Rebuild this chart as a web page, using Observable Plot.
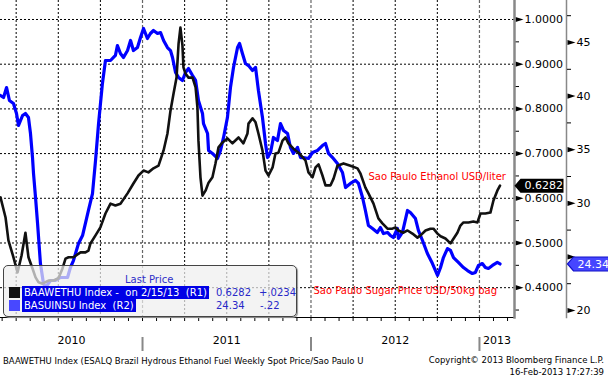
<!DOCTYPE html>
<html><head><meta charset="utf-8">
<script src="https://cdn.jsdelivr.net/npm/d3@7"></script>
<script src="https://cdn.jsdelivr.net/npm/@observablehq/plot@0.6"></script>
<style>
body{margin:0;background:#fff;}
#wrap{position:relative;width:608px;height:380px;overflow:hidden;background:#fff;font-family:"DejaVu Sans",sans-serif;color:#000;}
#wrap svg{position:absolute;left:0;top:0;}
#legend{position:absolute;left:3px;top:265px;width:292px;height:50px;border:1px solid #444;border-radius:5px;background:rgba(238,238,238,0.72);box-shadow:1px 1px 1px #999;z-index:10;font-size:10px;line-height:13px;}
#legend div{position:absolute;white-space:pre;}
#legend .lp{left:121px;top:7px;color:#3030c8;}
#legend .sw{left:5px;width:11px;height:11px;}
#legend .hl{left:18px;height:13px;padding:0 2px;background:#0000e6;color:#fff;}
#legend .val{color:#2828c8;}
.foot{position:absolute;font-size:8.5px;line-height:10px;white-space:pre;color:#000;}
</style></head><body>
<div id="wrap"></div>
<script>
// ---- data (decimal years) ----
const ethanolYears = [2010.157,2010.187,2010.204,2010.234,2010.258,2010.282,2010.305,2010.323,2010.347,2010.365,2010.383,2010.406,2010.442,2010.472,2010.501,2010.525,2010.543,2010.561,2010.590,2010.632,2010.661,2010.679,2010.691,2010.721,2010.750,2010.780,2010.810,2010.839,2010.869,2010.911,2010.946,2010.976,2011.006,2011.035,2011.065,2011.095,2011.125,2011.148,2011.166,2011.184,2011.202,2011.214,2011.225,2011.237,2011.243,2011.255,2011.273,2011.297,2011.315,2011.326,2011.332,2011.344,2011.356,2011.374,2011.392,2011.415,2011.433,2011.451,2011.475,2011.504,2011.534,2011.570,2011.599,2011.623,2011.629,2011.653,2011.671,2011.688,2011.712,2011.730,2011.748,2011.772,2011.789,2011.807,2011.831,2011.849,2011.866,2011.896,2011.926,2011.967,2011.985,2012.009,2012.027,2012.045,2012.068,2012.086,2012.116,2012.134,2012.157,2012.193,2012.234,2012.276,2012.294,2012.323,2012.341,2012.371,2012.400,2012.424,2012.454,2012.483,2012.501,2012.519,2012.549,2012.573,2012.602,2012.632,2012.650,2012.680,2012.709,2012.727,2012.751,2012.769,2012.798,2012.828,2012.840,2012.869,2012.887,2012.905,2012.935,2012.964,2012.988,2013.006,2013.035,2013.065,2013.083,2013.106,2013.122];
const ethanolValues = [0.602,0.557,0.506,0.468,0.434,0.472,0.523,0.468,0.443,0.423,0.412,0.409,0.416,0.416,0.421,0.443,0.465,0.468,0.468,0.479,0.479,0.483,0.499,0.517,0.535,0.566,0.588,0.584,0.588,0.611,0.633,0.651,0.662,0.658,0.667,0.673,0.707,0.745,0.796,0.834,0.870,0.946,0.982,0.942,0.893,0.879,0.870,0.870,0.848,0.803,0.729,0.647,0.606,0.617,0.635,0.647,0.678,0.714,0.725,0.734,0.723,0.736,0.723,0.745,0.767,0.779,0.770,0.745,0.707,0.662,0.651,0.669,0.700,0.702,0.729,0.736,0.723,0.711,0.702,0.685,0.658,0.647,0.669,0.676,0.651,0.629,0.629,0.644,0.673,0.678,0.673,0.667,0.655,0.624,0.611,0.588,0.555,0.544,0.532,0.532,0.535,0.528,0.523,0.528,0.521,0.512,0.517,0.528,0.532,0.532,0.521,0.515,0.510,0.499,0.506,0.523,0.539,0.546,0.546,0.548,0.546,0.566,0.566,0.568,0.595,0.617,0.6282];

const sugarYears = [2010.157,2010.175,2010.193,2010.210,2010.234,2010.252,2010.264,2010.288,2010.305,2010.323,2010.335,2010.347,2010.353,2010.365,2010.377,2010.394,2010.412,2010.424,2010.454,2010.483,2010.513,2010.555,2010.572,2010.590,2010.620,2010.644,2010.661,2010.679,2010.703,2010.721,2010.739,2010.762,2010.780,2010.810,2010.839,2010.851,2010.869,2010.887,2010.911,2010.929,2010.946,2010.970,2010.988,2011.006,2011.029,2011.047,2011.065,2011.089,2011.107,2011.125,2011.148,2011.166,2011.178,2011.196,2011.214,2011.237,2011.255,2011.273,2011.297,2011.315,2011.332,2011.356,2011.362,2011.386,2011.392,2011.415,2011.445,2011.463,2011.481,2011.504,2011.522,2011.540,2011.564,2011.576,2011.593,2011.611,2011.629,2011.653,2011.671,2011.688,2011.712,2011.730,2011.742,2011.760,2011.777,2011.801,2011.819,2011.837,2011.861,2011.878,2011.896,2011.920,2011.938,2011.955,2011.985,2012.009,2012.039,2012.068,2012.086,2012.104,2012.128,2012.157,2012.187,2012.205,2012.234,2012.264,2012.282,2012.306,2012.323,2012.341,2012.365,2012.394,2012.412,2012.430,2012.454,2012.471,2012.489,2012.513,2012.519,2012.543,2012.573,2012.590,2012.620,2012.638,2012.662,2012.691,2012.721,2012.751,2012.769,2012.786,2012.810,2012.828,2012.846,2012.875,2012.905,2012.929,2012.958,2012.976,2012.994,2013.017,2013.035,2013.053,2013.077,2013.106,2013.122];
const sugarValues = [40.06,39.87,40.80,39.59,39.31,38.38,37.26,38.19,38.38,38.00,36.51,34.27,32.78,30.54,28.12,24.38,22.52,22.15,22.80,22.80,23.08,23.08,24.01,24.66,26.25,26.99,28.12,29.33,30.91,33.99,37.44,41.18,43.32,43.32,43.79,44.72,43.97,43.60,44.25,45.19,44.25,44.53,45.47,46.31,45.37,45.84,46.12,45.84,45.93,45.19,44.53,44.25,43.60,42.20,41.74,41.46,42.20,42.57,41.92,41.46,39.59,38.38,37.44,36.51,34.93,34.65,34.18,34.93,36.14,38.00,40.80,42.67,44.53,44.91,43.97,43.04,42.85,42.39,42.67,40.52,38.00,35.58,34.27,34.74,36.14,35.86,37.44,36.79,36.51,35.21,34.65,35.21,34.27,34.27,34.18,34.74,34.93,35.39,35.58,34.65,34.27,33.71,32.87,31.47,31.85,32.13,31.85,30.54,29.33,27.93,27.65,27.28,27.74,27.18,27.28,27.00,26.81,27.65,26.72,27.28,29.33,29.14,28.58,27.46,26.53,25.32,24.38,23.27,24.01,24.94,25.78,25.60,24.94,24.48,24.01,23.73,23.45,23.55,24.20,24.38,24.01,23.92,24.20,24.48,24.34];

const ethanolTicks = [0.4,0.5,0.6,0.7,0.8,0.9,1.0];
const ethanolMinorTicks = [0.35,0.45,0.55,0.65,0.75,0.85,0.95];
const sugarTicks = [20,25,30,35,40,45];
const sugarMinorTicks = [22.5,27.5,32.5,37.5,42.5,47.5];
const yearLabels = ["2010","2011","2012","2013"];
const yearStarts = [2010,2011,2012,2013];

const ethanolName = "BAAWETHU Index -  on 2/15/13  (R1)";
const sugarName = "BASUINSU Index  (R2)";
const ethanolChange = "+.0234";
const sugarChange = "-.22";
const ethanolNote = "Sao Paulo Ethanol USD/liter";
const sugarNote = "Sao Paulo Sugar Price USD/50kg bag";
const footLeft = "BAAWETHU Index (ESALQ Brazil Hydrous Ethanol Fuel Weekly Spot Price/Sao Paulo U";
const footRight1 = "Copyright\u00a9 2013 Bloomberg Finance L.P.";
const footRight2 = "16-Feb-2013 17:27:39";

// ---- build ----
const ethanol = ethanolYears.map((t,i)=>({t, v: ethanolValues[i]}));
const sugar = sugarYears.map((t,i)=>({t, v: sugarValues[i]}));
const lastEth = ethanol[ethanol.length-1];
const lastSug = sugar[sugar.length-1];

const W = 608, H = 350;
const xDomain = [2010.157, 2013.208];
const ethDomain = [0.3333, 1.0425];
const sugDomain = [19.347, 48.918];
const inX = t => t >= xDomain[0] && t <= xDomain[1];
const quarterLines = d3.range(2010, 2014, 0.25).filter(t => inX(t) && !Number.isInteger(t));
const monthTicks = d3.range(2010*12, 2014*12).map(m => m/12).filter(inX);
const yearLines = yearStarts.filter(inX);
const yearCenters = yearStarts.map((y,i) => ({label: yearLabels[i], t: (Math.max(y, xDomain[0]) + Math.min(y+1, xDomain[1]))/2}));
// tick labels that sit under the last-value tag are hidden, as in the original
const sugarLabelTicks = sugarTicks.filter(s => Math.abs(s - lastSug.v) > 1.2);

const arrowRight = {draw(c){c.moveTo(0,-2.6);c.lineTo(8,0);c.lineTo(0,2.6);c.closePath();}};
const tag = w => ({draw(c){c.moveTo(0,0);c.lineTo(6,-7);c.lineTo(w,-7);c.lineTo(w,7);c.lineTo(6,7);c.closePath();}});

const common = {
  width: W, height: H, marginTop: 0, marginRight: 94, marginBottom: 33, marginLeft: 0,
  x: {domain: xDomain, axis: null},
};
const st = bg => ({fontFamily: "DejaVu Sans", fontSize: "11px", background: bg, overflow: "visible"});

const base = Plot.plot({
  ...common, style: st("white"),
  y: {domain: ethDomain, axis: null},
  marks: [
    Plot.ruleY(ethanolTicks, {stroke: "#000", strokeWidth: 1, strokeDasharray: "2,2"}),
    Plot.ruleX(quarterLines, {stroke: "#000", strokeWidth: 1, strokeDasharray: "2,2"}),
    Plot.ruleX(yearLines, {stroke: "#666", strokeWidth: 1.2, strokeDasharray: "3,2"}),
    Plot.frame({anchor: "bottom", stroke: "#000"}),
    Plot.axisX(monthTicks, {anchor: "bottom", tickSize: 4, tickFormat: () => "", label: null}),
    Plot.axisX(yearLines, {anchor: "bottom", tickSize: 14, dy: 20, stroke: "#888", strokeWidth: 2, tickFormat: () => "", label: null}),
    Plot.text(yearCenters, {x: "t", text: "label", frameAnchor: "bottom", dy: 26, fontSize: 11, fill: "#000"}),
    Plot.axisY(ethanolMinorTicks, {anchor: "right", tickSize: 4, tickFormat: () => "", label: null}),
    Plot.axisY(ethanolTicks, {anchor: "right", tickSize: 0, tickPadding: 10, tickFormat: d3.format(".4f"), fontSize: 11, fill: "#000", label: null}),
    Plot.dot(ethanolTicks, {y: d => d, frameAnchor: "right", dx: 1, symbol: arrowRight, fill: "#000"}),
    Plot.frame({anchor: "right", stroke: "#888", strokeWidth: 2.5})
  ]
});

const sugarLayer = Plot.plot({
  ...common, style: st("transparent"),
  y: {domain: sugDomain, axis: null},
  marks: [
    Plot.line(sugar, {x: "t", y: "v", stroke: "#0000ff", strokeWidth: 3.2, strokeLinejoin: "round"}),
    Plot.frame({anchor: "right", insetRight: -52, stroke: "#888", strokeWidth: 1.5}),
    Plot.axisY(sugarMinorTicks, {anchor: "right", dx: 52, tickSize: 4, tickFormat: () => "", label: null}),
    Plot.axisY(sugarLabelTicks, {anchor: "right", dx: 52, tickSize: 0, tickPadding: 10, fontSize: 11, fill: "#000", label: null}),
    Plot.dot(sugarTicks, {y: d => d, frameAnchor: "right", dx: 53, symbol: arrowRight, fill: "#000"}),
    Plot.dot([lastSug], {y: "v", frameAnchor: "right", dx: 53, symbol: tag(42), fill: "#4646ff", stroke: "#1010c8", strokeWidth: 1.2}),
    Plot.text([lastSug], {y: "v", frameAnchor: "right", dx: 63, text: d => d.v.toFixed(2), textAnchor: "start", fill: "#fff", fontSize: 11})
  ]
});

const ethLayer = Plot.plot({
  ...common, style: st("transparent"),
  y: {domain: ethDomain, axis: null},
  marks: [
    Plot.line(ethanol, {x: "t", y: "v", stroke: "#111", strokeWidth: 2.6, strokeLinejoin: "round"}),
    Plot.text([ethanolNote], {x: 2012.341, y: 0.6488, text: d => d, textAnchor: "start", fill: "#f00", fontSize: 10}),
    Plot.text([sugarNote], {x: 2012.015, y: 0.3937, text: d => d, textAnchor: "start", fill: "#f00", fontSize: 10}),
    Plot.dot([lastEth], {y: "v", frameAnchor: "right", dx: 0, symbol: tag(49), fill: "#000"}),
    Plot.text([lastEth], {y: "v", frameAnchor: "right", dx: 10, text: d => d.v.toFixed(4), textAnchor: "start", fill: "#fff", fontSize: 11})
  ]
});

const wrap = document.getElementById("wrap");
wrap.append(base, sugarLayer, ethLayer);

// legend
const lg = document.createElement("div");
lg.id = "legend";
const add = (cls, text, style) => { const d = document.createElement("div"); d.className = cls; d.textContent = text; Object.assign(d.style, style); lg.append(d); };
add("lp", "Last Price", {});
add("sw", "", {top: "21px", background: "#111"});
add("hl", ethanolName, {top: "20px"});
add("val", lastEth.v.toFixed(4), {top: "20px", left: "212px"});
add("val", ethanolChange, {top: "20px", left: "255px"});
add("sw", "", {top: "34px", background: "#4848ff"});
add("hl", sugarName, {top: "33px"});
add("val", lastSug.v.toFixed(2), {top: "33px", left: "212px"});
add("val", sugarChange, {top: "33px", left: "256px"});
wrap.append(lg);

// footer
const foot = (text, style) => { const d = document.createElement("div"); d.className = "foot"; d.textContent = text; Object.assign(d.style, style); wrap.append(d); };
foot(footLeft, {left: "3px", top: "356px"});
foot(footRight1, {right: "4px", top: "355px"});
foot(footRight2, {right: "4px", top: "367px"});
</script>
</body></html>
